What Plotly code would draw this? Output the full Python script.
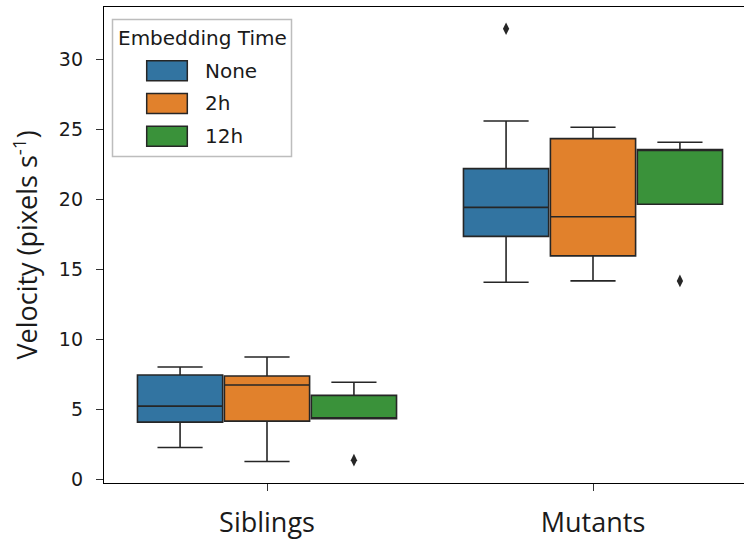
import plotly.graph_objects as go

# ---------------- data ----------------
categories = ["Siblings", "Mutants"]
hues = ["None", "2h", "12h"]

none_lower = [2.29, 14.09]
none_q1 = [4.10, 17.36]
none_median = [5.24, 19.43]
none_q3 = [7.46, 22.20]
none_upper = [8.03, 25.60]
none_outliers = [[], [32.19]]

h2_lower = [1.29, 14.18]
h2_q1 = [4.17, 15.97]
h2_median = [6.75, 18.76]
h2_q3 = [7.39, 24.34]
h2_upper = [8.75, 25.15]
h2_outliers = [[], []]

h12_lower = [4.34, 19.65]
h12_q1 = [4.34, 19.65]
h12_median = [4.34, 23.56]
h12_q3 = [6.01, 23.56]
h12_upper = [6.94, 24.08]
h12_outliers = [[1.38], [14.18]]

y_ticks = [0, 5, 10, 15, 20, 25, 30]

colors = ["#3274a1", "#e1812c", "#3a923a"]
edge = "rgb(38,38,38)"

stats = [
    (none_lower, none_q1, none_median, none_q3, none_upper, none_outliers),
    (h2_lower, h2_q1, h2_median, h2_q3, h2_upper, h2_outliers),
    (h12_lower, h12_q1, h12_median, h12_q3, h12_upper, h12_outliers),
]

# seaborn-like dodge geometry
total_w = 0.8
slot = total_w / len(hues)
box_w = slot * 0.98

fig = go.Figure()
for h, (lo, q1, med, q3, up, outs) in enumerate(stats):
    off = -total_w / 2 + slot * (h + 0.5)
    xs = [i + off for i in range(len(categories))]
    fig.add_trace(go.Box(
        x=xs, q1=q1, median=med, q3=q3, lowerfence=lo, upperfence=up,
        width=box_w, whiskerwidth=0.53,
        fillcolor=colors[h], line=dict(color=edge, width=1.6),
        boxpoints=False, name=hues[h], showlegend=False, hoverinfo="skip",
    ))
    ox, oy = [], []
    for i, vals in enumerate(outs):
        for v in vals:
            ox.append(i + off)
            oy.append(v)
    if ox:
        fig.add_trace(go.Scatter(
            x=ox, y=oy, mode="markers", showlegend=False, hoverinfo="skip",
            marker=dict(symbol="diamond-tall", size=9, color=edge,
                        line=dict(width=0)),
        ))

# ---------------- layout ----------------
L, R_PX, T, B_PX = 104, 744, 7, 483
W, H = 744, 544


def px(x):
    return (x - L) / (R_PX - L)


def py(y):
    return (B_PX - y) / (B_PX - T)


tick_font = dict(family="DejaVu Sans", size=19, color="#1a1a1a")
legend_font = dict(family="DejaVu Sans", size=20, color="#1a1a1a")
big_font = dict(family="Open Sans", size=27, color="#1a1a1a")

fig.update_layout(
    width=W, height=H,
    margin=dict(l=L, r=W - R_PX, t=T, b=H - B_PX, pad=0),
    plot_bgcolor="white", paper_bgcolor="white",
    showlegend=False,
    xaxis=dict(
        range=[-0.5, -0.5 + (R_PX - L) / 326.0],
        tickmode="array", tickvals=list(range(len(categories))),
        ticktext=categories, tickfont=big_font,
        ticks="outside", ticklen=7, tickwidth=1.2, tickcolor="#333",
        ticklabelstandoff=8,
        showline=True, linecolor="black", linewidth=1.4, mirror=True,
        showgrid=False, zeroline=False,
    ),
    yaxis=dict(
        range=[-0.25, 33.74],
        tickmode="array", tickvals=y_ticks,
        ticktext=[str(t) for t in y_ticks], tickfont=tick_font,
        ticks="outside", ticklen=7, tickwidth=1.2, tickcolor="#333",
        ticklabelstandoff=9,
        showline=True, linecolor="black", linewidth=1.4, mirror=False,
        showgrid=False, zeroline=False,
        title=dict(text="Velocity (pixels s<sup>-1</sup>)", font=big_font,
                   standoff=13),
    ),
)

# ---------------- legend (drawn manually to mimic matplotlib) ----------------
shapes = [dict(type="rect", xref="paper", yref="paper",
               x0=px(112.5), x1=px(291.5), y0=py(156.5), y1=py(19.5),
               line=dict(color="#bdbdbd", width=1.5), fillcolor="white",
               layer="above")]
annots = [dict(text="Embedding Time", xref="paper", yref="paper",
               x=px(202), y=py(38.5), xanchor="center", yanchor="middle",
               showarrow=False, font=legend_font)]
row_y = [70.7, 103.5, 136.3]
for h, name in enumerate(hues):
    shapes.append(dict(type="rect", xref="paper", yref="paper",
                       x0=px(146.7), x1=px(187.3),
                       y0=py(row_y[h] + 10), y1=py(row_y[h] - 10),
                       line=dict(color=edge, width=1.5),
                       fillcolor=colors[h], layer="above"))
    annots.append(dict(text=name, xref="paper", yref="paper",
                       x=px(203), y=py(row_y[h]), xanchor="left",
                       yanchor="middle", showarrow=False, font=legend_font))
fig.update_layout(shapes=shapes, annotations=annots)

fig.write_html("out.html")
